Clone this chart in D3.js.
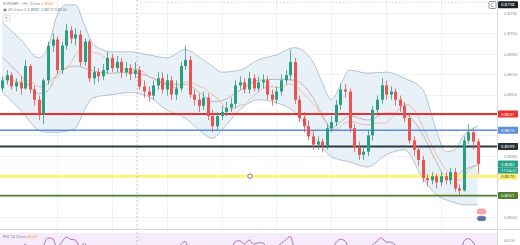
<!DOCTYPE html>
<html>
<head>
<meta charset="utf-8">
<style>
  body { margin: 0; background: #fff; }
  svg { display: block; font-family: "Noto Sans", "DejaVu Sans", sans-serif; }
  .grid line { stroke: #eef1f5; stroke-width: 1; shape-rendering: crispEdges; }
  .axis text { fill: #80868f; font-size: 4.3px; }
</style>
</head>
<body>
<svg width="520" height="245"></svg>
<script src="https://d3js.org/d3.v7.min.js"></script>
<script>
// candles, oldest first (hourly)
var opens = [0.8656, 0.8664, 0.8669, 0.8658, 0.8662, 0.8656, 0.8678, 0.8655, 0.8645, 0.8631,
  0.8664, 0.8698, 0.8704, 0.8674, 0.8698, 0.8713, 0.8705, 0.8709, 0.8682, 0.8702,
  0.8666, 0.8672, 0.8668, 0.8674, 0.8686, 0.8676, 0.8682, 0.8672, 0.8676, 0.8670,
  0.8674, 0.8658, 0.8653, 0.8649, 0.8659, 0.8666, 0.8655, 0.8664, 0.8650, 0.8656,
  0.8678, 0.8684, 0.8650, 0.8645, 0.8639, 0.8647, 0.8629, 0.8619, 0.8629, 0.8633,
  0.8637, 0.8641, 0.8659, 0.8662, 0.8655, 0.8666, 0.8656, 0.8662, 0.8664, 0.8650,
  0.8645, 0.8653, 0.8664, 0.8669, 0.8682, 0.8645, 0.8627, 0.8619, 0.8609, 0.8601,
  0.8604, 0.8600, 0.8617, 0.8623, 0.8640, 0.8655, 0.8653, 0.8617, 0.8598, 0.8591,
  0.8594, 0.8610, 0.8635, 0.8645, 0.8659, 0.8650, 0.8653, 0.8645, 0.8639, 0.8627,
  0.8605, 0.8596, 0.8586, 0.8568, 0.8566, 0.8570, 0.8564, 0.8570, 0.8566, 0.8574,
  0.8558, 0.8556, 0.8605, 0.8613, 0.8604];
var highs = [0.8668, 0.8674, 0.8672, 0.8666, 0.8668, 0.8684, 0.8680, 0.8659, 0.8649, 0.8666,
  0.8702, 0.8710, 0.8707, 0.8702, 0.8719, 0.8717, 0.8715, 0.8713, 0.8705, 0.8704,
  0.8678, 0.8676, 0.8680, 0.8692, 0.8690, 0.8688, 0.8686, 0.8682, 0.8680, 0.8682,
  0.8678, 0.8664, 0.8658, 0.8664, 0.8672, 0.8672, 0.8670, 0.8668, 0.8664, 0.8682,
  0.8698, 0.8688, 0.8655, 0.8651, 0.8653, 0.8651, 0.8635, 0.8633, 0.8639, 0.8643,
  0.8647, 0.8664, 0.8668, 0.8666, 0.8672, 0.8670, 0.8668, 0.8670, 0.8668, 0.8655,
  0.8658, 0.8670, 0.8674, 0.8694, 0.8686, 0.8649, 0.8633, 0.8625, 0.8615, 0.8609,
  0.8607, 0.8621, 0.8629, 0.8645, 0.8661, 0.8660, 0.8656, 0.8621, 0.8604, 0.8600,
  0.8615, 0.8639, 0.8649, 0.8666, 0.8664, 0.8658, 0.8656, 0.8649, 0.8643, 0.8631,
  0.8609, 0.8600, 0.8590, 0.8572, 0.8574, 0.8572, 0.8574, 0.8574, 0.8578, 0.8578,
  0.8562, 0.8609, 0.8621, 0.8617, 0.8607];
var lows = [0.8653, 0.8660, 0.8655, 0.8653, 0.8650, 0.8655, 0.8651, 0.8639, 0.8625, 0.8621,
  0.8660, 0.8692, 0.8670, 0.8670, 0.8694, 0.8700, 0.8698, 0.8678, 0.8678, 0.8662,
  0.8660, 0.8662, 0.8664, 0.8670, 0.8672, 0.8672, 0.8666, 0.8668, 0.8664, 0.8666,
  0.8655, 0.8647, 0.8643, 0.8645, 0.8655, 0.8651, 0.8649, 0.8645, 0.8645, 0.8653,
  0.8674, 0.8647, 0.8639, 0.8633, 0.8635, 0.8625, 0.8613, 0.8615, 0.8625, 0.8629,
  0.8633, 0.8637, 0.8655, 0.8651, 0.8651, 0.8653, 0.8653, 0.8656, 0.8645, 0.8639,
  0.8641, 0.8649, 0.8660, 0.8664, 0.8641, 0.8623, 0.8613, 0.8605, 0.8596, 0.8596,
  0.8594, 0.8596, 0.8613, 0.8619, 0.8635, 0.8647, 0.8613, 0.8594, 0.8586, 0.8586,
  0.8590, 0.8605, 0.8631, 0.8641, 0.8645, 0.8645, 0.8639, 0.8633, 0.8623, 0.8602,
  0.8590, 0.8580, 0.8564, 0.8560, 0.8562, 0.8558, 0.8560, 0.8562, 0.8562, 0.8555,
  0.8552, 0.8555, 0.8602, 0.8596, 0.8572];
var closes = [0.8664, 0.8669, 0.8658, 0.8662, 0.8656, 0.8678, 0.8655, 0.8645, 0.8631, 0.8664,
  0.8698, 0.8704, 0.8674, 0.8698, 0.8713, 0.8705, 0.8709, 0.8682, 0.8702, 0.8666,
  0.8672, 0.8668, 0.8674, 0.8686, 0.8676, 0.8682, 0.8672, 0.8676, 0.8670, 0.8674,
  0.8658, 0.8653, 0.8649, 0.8659, 0.8666, 0.8655, 0.8664, 0.8650, 0.8656, 0.8678,
  0.8684, 0.8650, 0.8645, 0.8639, 0.8647, 0.8629, 0.8619, 0.8629, 0.8633, 0.8637,
  0.8641, 0.8659, 0.8662, 0.8655, 0.8666, 0.8656, 0.8662, 0.8664, 0.8650, 0.8645,
  0.8653, 0.8664, 0.8669, 0.8682, 0.8645, 0.8627, 0.8619, 0.8609, 0.8601, 0.8604,
  0.8600, 0.8617, 0.8623, 0.8640, 0.8655, 0.8653, 0.8617, 0.8598, 0.8591, 0.8594,
  0.8610, 0.8635, 0.8645, 0.8659, 0.8650, 0.8653, 0.8645, 0.8639, 0.8627, 0.8605,
  0.8596, 0.8586, 0.8568, 0.8566, 0.8570, 0.8564, 0.8570, 0.8566, 0.8574, 0.8558,
  0.8556, 0.8605, 0.8613, 0.8604, 0.8582];

// bollinger band (20, 2) read at some candles
var bbIndex = [0, 4, 8, 10, 12, 14, 16, 18, 20, 24, 28, 32, 36, 40, 44, 46, 48, 52, 56, 60,
  64, 68, 70, 72, 74, 76, 80, 84, 88, 92, 95, 97, 99, 101, 104];
var bbUpper = [0.8721, 0.8704, 0.8686, 0.8696, 0.8728, 0.8738, 0.8738, 0.8718, 0.8699, 0.8692,
  0.8692, 0.8689, 0.8686, 0.8694, 0.8684, 0.8678, 0.8672, 0.8674, 0.8684, 0.8689,
  0.8696, 0.8682, 0.8662, 0.8645, 0.8659, 0.8674, 0.8671, 0.8672, 0.8666, 0.8655,
  0.8615, 0.8594, 0.8596, 0.8610, 0.8619];
var bbMiddle = [0.8687, 0.8669, 0.8651, 0.8654, 0.8670, 0.8676, 0.8678, 0.8676, 0.8673, 0.8671,
  0.8672, 0.8668, 0.8660, 0.8660, 0.8649, 0.8643, 0.8644, 0.8654, 0.8664, 0.8665,
  0.8664, 0.8647, 0.8630, 0.8617, 0.8623, 0.8629, 0.8625, 0.8632, 0.8631, 0.8611,
  0.8584, 0.8570, 0.8570, 0.8576, 0.8581];
var bbLower = [0.8652, 0.8635, 0.8615, 0.8613, 0.8613, 0.8614, 0.8617, 0.8635, 0.8647, 0.8650,
  0.8652, 0.8648, 0.8635, 0.8627, 0.8612, 0.8607, 0.8615, 0.8635, 0.8645, 0.8642,
  0.8633, 0.8610, 0.8598, 0.8589, 0.8586, 0.8584, 0.8579, 0.8591, 0.8596, 0.8568,
  0.8552, 0.8547, 0.8544, 0.8542, 0.8542];

var rsiValues = [50, 52, 46, 48, 45, 54, 44, 40, 36, 52,
  63, 62, 50, 57, 64, 61, 60, 50, 55, 45,
  47, 46, 48, 52, 49, 51, 47, 48, 46, 48,
  42, 40, 39, 44, 47, 43, 47, 42, 45, 53,
  58, 44, 42, 40, 44, 38, 35, 40, 42, 44,
  46, 58, 59, 54, 60, 54, 56, 56, 48, 46,
  50, 55, 60, 65, 46, 40, 37, 34, 32, 34,
  33, 42, 45, 56, 61, 59, 44, 37, 35, 37,
  45, 53, 58, 63, 57, 57, 53, 50, 45, 38,
  35, 32, 28, 28, 30, 28, 31, 30, 34, 29,
  28, 58, 62, 57, 45];

// horizontal levels: resistance red, blue, dark, support yellow, green
var levels = [0.8631, 0.8615, 0.8599, 0.8570, 0.8551];
var priceTicks = [0.8530, 0.8550, 0.8570, 0.8590, 0.8610, 0.8630, 0.8650, 0.8670, 0.8690, 0.8710, 0.8730];
var rsiTicks = [60];
var topMark = 0.8738;
var sessionBreak = 29.5;
var gridIdx = [12, 24, 36, 48, 60, 72, 84, 96];

var svg = d3.select("svg"),
    plotRight = 497,
    paneBottom = 229;

var x = d3.scaleLinear().domain([0, closes.length - 1]).range([2.3, 477.5]);
var y = d3.scaleLinear().domain([0.8530, 0.8730]).range([217, 13]);
var yRsi = d3.scaleLinear().domain([60, 70]).range([240, 233]);
var fmt = d3.format(".4f");

var defs = svg.append("defs");
defs.append("clipPath").attr("id", "pclip").append("rect")
    .attr("x", 0).attr("y", 0).attr("width", plotRight).attr("height", paneBottom);
defs.append("clipPath").attr("id", "rclip").append("rect")
    .attr("x", 0).attr("y", paneBottom + 1).attr("width", plotRight).attr("height", 20);

// rsi pane background
svg.append("rect")
    .attr("x", 0).attr("y", yRsi(70))
    .attr("width", plotRight).attr("height", 245 - yRsi(70))
    .attr("fill", "#f5ebfb");

// grid
var grid = svg.append("g").attr("class", "grid");
grid.selectAll(".h").data(priceTicks).enter().append("line")
    .attr("x1", 0).attr("x2", plotRight)
    .attr("y1", function (d) { return Math.round(y(d)) + 0.5; })
    .attr("y2", function (d) { return Math.round(y(d)) + 0.5; });
grid.selectAll(".v").data(gridIdx).enter().append("line")
    .attr("x1", function (d) { return Math.round(x(d)) + 0.5; })
    .attr("x2", function (d) { return Math.round(x(d)) + 0.5; })
    .attr("y1", 0).attr("y2", 245);

// bollinger band
var bb = bbIndex.map(function (d, i) {
    return { i: d, u: bbUpper[i], m: bbMiddle[i], l: bbLower[i] };
});
var g = svg.append("g").attr("clip-path", "url(#pclip)");
g.append("path").datum(bb)
    .attr("fill", "#e2edf6").attr("fill-opacity", 0.8)
    .attr("d", d3.area().curve(d3.curveMonotoneX)
        .x(function (d) { return x(d.i); })
        .y0(function (d) { return y(d.l); })
        .y1(function (d) { return y(d.u); }));
["u", "l"].forEach(function (k) {
    g.append("path").datum(bb)
        .attr("fill", "none").attr("stroke", "#9aabbc").attr("stroke-width", 0.7)
        .attr("d", d3.line().curve(d3.curveMonotoneX)
            .x(function (d) { return x(d.i); })
            .y(function (d) { return y(d[k]); }));
});
g.append("path").datum(bb)
    .attr("fill", "none").attr("stroke", "#a48f8f").attr("stroke-width", 0.6)
    .attr("d", d3.line().curve(d3.curveMonotoneX)
        .x(function (d) { return x(d.i); })
        .y(function (d) { return y(d.m); }));

// fast moving average of the closes
var ma = closes.map(function (c, i) {
    return d3.mean(closes.slice(Math.max(0, i - 8), i + 1));
});
g.append("path").datum(ma)
    .attr("fill", "none").attr("stroke", "#f2a48c").attr("stroke-width", 0.7)
    .attr("d", d3.line().curve(d3.curveMonotoneX)
        .x(function (d, i) { return x(i); })
        .y(function (d) { return y(d); }));

// levels
var levelColor = ["#e8302f", "#5d8fd8", "#2b3a40", "#fff27a", "#4f7f2f"];
var levelWidth = [2, 1.5, 2, 3, 1.8];
svg.selectAll(".level").data(levels).enter().append("line")
    .attr("class", "level")
    .attr("x1", 0).attr("x2", plotRight)
    .attr("y1", function (d) { return y(d); })
    .attr("y2", function (d) { return y(d); })
    .attr("stroke", function (d, i) { return levelColor[i]; })
    .attr("stroke-width", function (d, i) { return levelWidth[i]; });

// handle on the yellow line
svg.append("circle")
    .attr("cx", 250).attr("cy", y(levels[3])).attr("r", 2.2)
    .attr("fill", "#fff").attr("stroke", "#4a5a6a").attr("stroke-width", 0.8);

// candles
var candles = d3.range(closes.length);
var up = "#2b9d80", down = "#ec5350";
var cg = svg.append("g").attr("clip-path", "url(#pclip)");
cg.selectAll(".wick").data(candles).enter().append("line")
    .attr("x1", function (i) { return Math.round(x(i)) + 0.5; })
    .attr("x2", function (i) { return Math.round(x(i)) + 0.5; })
    .attr("y1", function (i) { return y(highs[i]); })
    .attr("y2", function (i) { return y(lows[i]); })
    .attr("stroke", function (i) { return closes[i] >= opens[i] ? up : down; })
    .attr("stroke-width", 0.8);
cg.selectAll(".body").data(candles).enter().append("rect")
    .attr("x", function (i) { return Math.round(x(i)) - 1; })
    .attr("width", 3)
    .attr("y", function (i) { return y(Math.max(opens[i], closes[i])); })
    .attr("height", function (i) { return Math.max(0.8, Math.abs(y(opens[i]) - y(closes[i]))); })
    .attr("fill", function (i) { return closes[i] >= opens[i] ? up : down; });

// session break and top dotted line
svg.append("line")
    .attr("x1", x(sessionBreak)).attr("x2", x(sessionBreak))
    .attr("y1", 0).attr("y2", 245)
    .attr("stroke", "#a9afb8").attr("stroke-width", 0.7).attr("stroke-dasharray", "2,2");
svg.append("line")
    .attr("x1", 140).attr("x2", plotRight - 10)
    .attr("y1", 2.5).attr("y2", 2.5)
    .attr("stroke", "#b8bec6").attr("stroke-width", 0.8).attr("stroke-dasharray", "1,2.5");

// rsi
svg.append("line")
    .attr("x1", 0).attr("x2", 520).attr("y1", paneBottom + 0.5).attr("y2", paneBottom + 0.5)
    .attr("stroke", "#d5d9df").attr("stroke-width", 1);
svg.append("g").attr("clip-path", "url(#rclip)")
    .append("path").datum(rsiValues)
    .attr("fill", "none").attr("stroke", "#9c4fc2").attr("stroke-width", 0.8)
    .attr("d", d3.line().curve(d3.curveMonotoneX)
        .x(function (d, i) { return x(i); })
        .y(function (d) { return yRsi(d); }));

// price boxes on the axis
var last = closes[closes.length - 1];
var boxes = [
    { v: levels[0], bg: "#e8302f", fg: "#fff" },
    { v: levels[1], bg: "#5d8fd8", fg: "#fff" },
    { v: levels[2], bg: "#263238", fg: "#fff" },
    { v: levels[3], bg: "#fff27a", fg: "#333" },
    { v: levels[4], bg: "#4f7f2f", fg: "#fff" },
    { v: last, bg: "#26a28a", fg: "#fff" },
    { v: topMark, bg: "#1e2328", fg: "#fff" }
];

// right axis, tick labels hidden where a price box covers them
svg.append("line")
    .attr("x1", plotRight + 0.5).attr("x2", plotRight + 0.5).attr("y1", 0).attr("y2", 245)
    .attr("stroke", "#d8dce2");
var shownTicks = priceTicks.filter(function (t) {
    return boxes.every(function (b) { return Math.abs(y(t) - y(b.v)) > 6; }) &&
        Math.abs(y(t) - (y(last) + 6.5)) > 6;
});
var axis = svg.append("g").attr("class", "axis")
    .attr("transform", "translate(" + (plotRight + 4) + ",0)");
axis.call(d3.axisRight(y).tickValues(shownTicks).tickSize(0).tickFormat(fmt));
axis.select(".domain").remove();
var raxis = svg.append("g").attr("class", "axis")
    .attr("transform", "translate(" + (plotRight + 4) + ",0)");
raxis.call(d3.axisRight(yRsi).tickValues(rsiTicks).tickSize(0).tickFormat(d3.format(".2f")));
raxis.select(".domain").remove();

var bx = svg.selectAll(".box").data(boxes).enter().append("g")
    .attr("transform", function (d) { return "translate(" + (plotRight + 1) + "," + y(d.v) + ")"; });
bx.append("rect").attr("x", 0).attr("y", -3.5).attr("width", 20).attr("height", 7).attr("rx", 0.8)
    .attr("fill", function (d) { return d.bg; });
bx.append("text").attr("x", 3).attr("y", 1.6)
    .attr("font-size", 4.3).attr("fill", function (d) { return d.fg; })
    .text(function (d) { return fmt(d.v); });
// countdown under the last price
svg.append("rect").attr("x", plotRight + 1).attr("y", y(last) + 3.5).attr("width", 20).attr("height", 6)
    .attr("fill", "#26a28a");
svg.append("text").attr("x", plotRight + 4).attr("y", y(last) + 7.8)
    .attr("font-size", 4).attr("fill", "#e8fff8").text("17:54:21");
// settings icon near the top box
svg.append("rect").attr("x", 489).attr("y", 1.5).attr("width", 7).attr("height", 7).attr("rx", 1)
    .attr("fill", "#fff").attr("stroke", "#50555c").attr("stroke-width", 0.6);
svg.append("text").attr("x", 490.6).attr("y", 6.9).attr("font-size", 5).attr("fill", "#50555c").text("C");

// event markers
svg.append("rect").attr("x", 477).attr("y", 209).attr("width", 9).attr("height", 5).attr("rx", 2.5)
    .attr("fill", "#f4a0c8").attr("stroke", "#f0a040").attr("stroke-width", 0.6);
svg.append("rect").attr("x", 477).attr("y", 216).attr("width", 9).attr("height", 5).attr("rx", 2.5)
    .attr("fill", "#4f6fc4").attr("stroke", "#e8b040").attr("stroke-width", 0.6);

// legends
var leg = svg.append("text").attr("x", 3).attr("y", 4.5).attr("font-size", 4).attr("fill", "#7d838c");
leg.append("tspan").text("EURGBP · 1H · Close ");
leg.append("tspan").attr("fill", "#f0a030").text(fmt(last));
var leg2 = svg.append("text").attr("x", 3).attr("y", 10.5).attr("font-size", 4).attr("fill", "#7d838c");
leg2.append("tspan").text("▣ 20 close 2 ");
leg2.append("tspan").attr("fill", "#6f8aa6")
    .text(fmt(bbMiddle[bbMiddle.length - 1]) + " " + fmt(bbUpper[bbUpper.length - 1]) + " " + fmt(bbLower[bbLower.length - 1]));
svg.append("rect").attr("x", 3).attr("y", 15).attr("width", 7).attr("height", 6).attr("rx", 1)
    .attr("fill", "#fff").attr("stroke", "#c4c9d0").attr("stroke-width", 0.6);
svg.append("text").attr("x", 4.8).attr("y", 20).attr("font-size", 5).attr("fill", "#666").text("^");
var leg3 = svg.append("text").attr("x", 3).attr("y", 238).attr("font-size", 4).attr("fill", "#7d838c");
leg3.append("tspan").text("RSI 14 Close ");
leg3.append("tspan").attr("fill", "#f0a030").text(d3.format(".2f")(rsiValues[rsiValues.length - 1]));
</script>
</body>
</html>
